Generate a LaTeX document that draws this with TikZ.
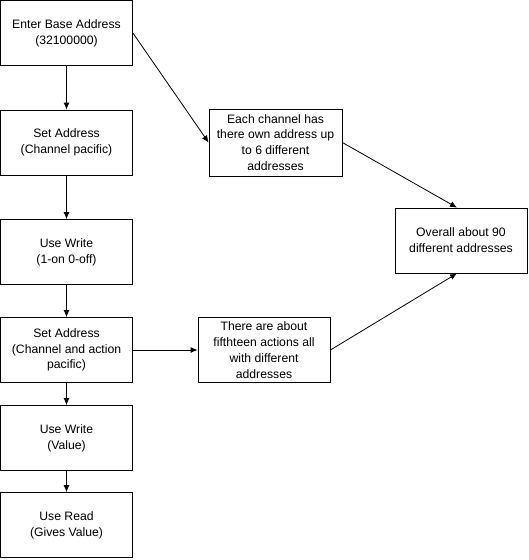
\documentclass[tikz,border=0pt]{standalone}
\usepackage{fontspec}
\setmainfont{Liberation Sans}
\usetikzlibrary{arrows.meta}
\tikzset{
    stepbox/.style={draw, line width=0.8pt, minimum width=132pt, minimum height=65pt,
        align=center, inner sep=1pt, font=\fontsize{12.2}{15.8}\selectfont},
    flow/.style={draw, line width=0.8pt, -{Latex[length=7pt,width=6pt]}}
}
\begin{document}
\begin{tikzpicture}[x=1pt, y=-1pt]
    \useasboundingbox (0,0) rectangle (529,560);
    % left column
    \node[stepbox] (base) at (66.5,33) {Enter Base Address\\(32100000)};
    \node[stepbox] (setch) at (66.5,142.5) {Set Address\\(Channel pacific)};
    \node[stepbox] (wronoff) at (66.5,252) {Use Write\\(1-on 0-off)};
    \node[stepbox] (setact) at (66.5,350) {Set Address\\(Channel and action\\pacific)};
    \node[stepbox] (wrval) at (66.5,438) {Use Write\\(Value)};
    \node[stepbox] (rdval) at (66.5,525) {Use Read\\(Gives Value)};
    % right side
    \node[stepbox, minimum width=133pt, minimum height=67pt] (chan) at (275.5,142.5) {Each channel has\\there own address up\\to 6 different\\addresses};
    \node[stepbox] (acts) at (264,350) {There are about\\fifthteen actions all\\with different\\addresses};
    \node[stepbox] (total) at (461,240.5) {Overall about 90\\different addresses};
    % arrows
    \draw[flow] (base) -- (setch);
    \draw[flow] (setch) -- (wronoff);
    \draw[flow] (wronoff) -- (setact);
    \draw[flow] (setact) -- (wrval);
    \draw[flow] (wrval) -- (rdval);
    \draw[flow] (setact) -- (acts);
    \draw[flow] (base.east) -- (chan.west);
    \draw[flow] (chan.east) -- ([xshift=-4pt]total.north);
    \draw[flow] (acts.east) -- ([xshift=-4pt]total.south);
\end{tikzpicture}
\end{document}
